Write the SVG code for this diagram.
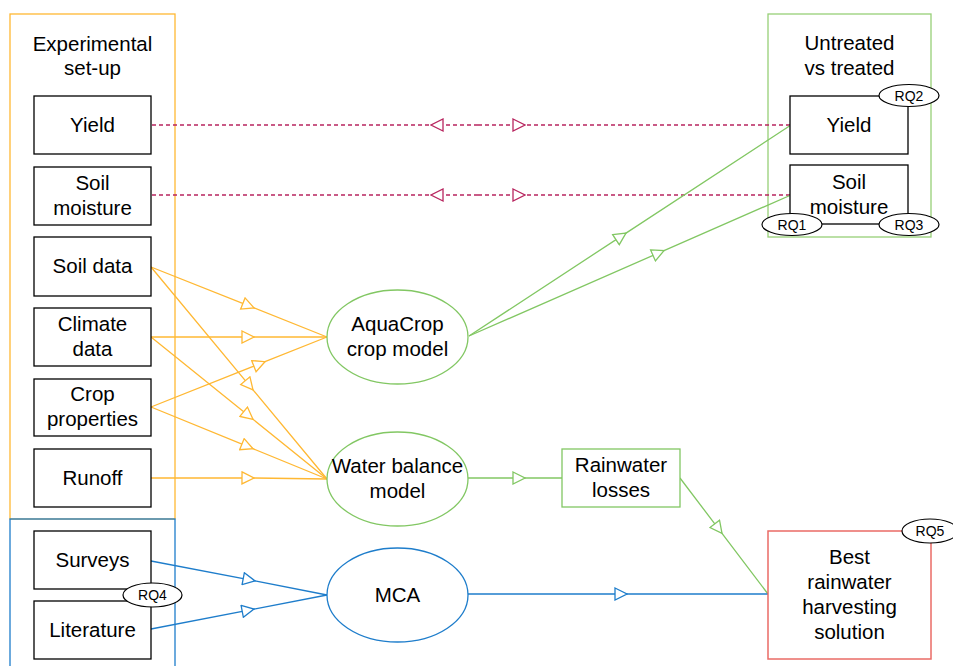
<svg xmlns="http://www.w3.org/2000/svg" width="953" height="666" viewBox="0 0 953 666">
<style>
text{font-family:"Liberation Sans",Arial,sans-serif;font-size:20.5px;fill:#000;text-anchor:middle;stroke:none}
text.rqt{font-size:14px}
.box{fill:#fff;stroke:#000;stroke-width:1.3}
.rq{fill:#fff;stroke:#000;stroke-width:1.2}
.or{fill:none;stroke:#FFB833;stroke-width:1.3}
.gr{fill:none;stroke:#82C763;stroke-width:1.3}
.bl{fill:none;stroke:#1E7DCB;stroke-width:1.3}
.rd{fill:none;stroke:#B8255F;stroke-width:1.3;stroke-dasharray:4 3}
</style>
<defs>
<marker id="mo" markerUnits="userSpaceOnUse" markerWidth="14" markerHeight="14" viewBox="-1 -1 14 14" refX="12" refY="6" orient="auto"><path d="M0,0 L12,6 L0,12 Z" fill="#fff" stroke="#FFB833" stroke-width="1.3"/></marker>
<marker id="mg" markerUnits="userSpaceOnUse" markerWidth="14" markerHeight="14" viewBox="-1 -1 14 14" refX="12" refY="6" orient="auto"><path d="M0,0 L12,6 L0,12 Z" fill="#fff" stroke="#82C763" stroke-width="1.3"/></marker>
<marker id="mb" markerUnits="userSpaceOnUse" markerWidth="14" markerHeight="14" viewBox="-1 -1 14 14" refX="12" refY="6" orient="auto"><path d="M0,0 L12,6 L0,12 Z" fill="#fff" stroke="#1E7DCB" stroke-width="1.3"/></marker>
<marker id="mr" markerUnits="userSpaceOnUse" markerWidth="14" markerHeight="14" viewBox="-1 -1 14 14" refX="12" refY="6" orient="auto"><path d="M0,0 L12,6 L0,12 Z" fill="#fff" stroke="#B8255F" stroke-width="1.3"/></marker>
</defs>
<rect width="953" height="666" fill="#fff"/>

<g id="experimental-setup">
<rect x="10" y="14" width="165" height="505" fill="none" stroke="#FFB833" stroke-width="1.3"/>
<text x="92.5" y="51">Experimental</text>
<text x="92.5" y="75">set-up</text>
</g>
<g id="survey-group">
<rect x="10" y="519" width="165" height="170" fill="none" stroke="#1E7DCB" stroke-width="1.3"/>
</g>
<g id="untreated-vs-treated">
<rect x="768" y="14" width="163" height="223" fill="none" stroke="#97D077" stroke-width="1.3"/>
<text x="849.5" y="50">Untreated</text>
<text x="849.5" y="75">vs treated</text>
</g>

<g id="connectors">
<path class="rd" d="M478,125 L431,125 L151,125" marker-mid="url(#mr)"/>
<path class="rd" d="M478,125 L525,125 L790,125" marker-mid="url(#mr)"/>
<path class="rd" d="M478,195 L431,195 L151,195" marker-mid="url(#mr)"/>
<path class="rd" d="M478,195 L525,195 L790,195" marker-mid="url(#mr)"/>

<path class="or" d="M151,267 L254,307.9 L327,337" marker-mid="url(#mo)"/>
<path class="or" d="M151,267 L253,389.9 L327,479" marker-mid="url(#mo)"/>
<path class="or" d="M151,337 L254,337 L327,337" marker-mid="url(#mo)"/>
<path class="or" d="M151,337 L253,419.3 L327,479" marker-mid="url(#mo)"/>
<path class="or" d="M151,407 L265,361.7 L327,337" marker-mid="url(#mo)"/>
<path class="or" d="M151,407 L253,448.7 L327,479" marker-mid="url(#mo)"/>
<path class="or" d="M151,478 L254,478 L327,479" marker-mid="url(#mo)"/>

<path class="gr" d="M469,336 L626,233.1 L791,125" marker-mid="url(#mg)"/>
<path class="gr" d="M469,336 L664,250.6 L791,195" marker-mid="url(#mg)"/>
<path class="gr" d="M468,478 L525,478 L562,478" marker-mid="url(#mg)"/>
<path class="gr" d="M680,478 L722,533.4 L768,594" marker-mid="url(#mg)"/>

<path class="bl" d="M151,561 L255,580.9 L327,595" marker-mid="url(#mb)"/>
<path class="bl" d="M151,629 L254,609.1 L327,595" marker-mid="url(#mb)"/>
<path class="bl" d="M468,594 L627,594 L768,594" marker-mid="url(#mb)"/>
</g>

<g id="yield-exp"><rect class="box" x="34" y="96" width="117" height="58"/><text x="92.5" y="132">Yield</text></g>
<g id="soil-moisture-exp"><rect class="box" x="34" y="167" width="117" height="58"/><text x="92.5" y="190">Soil</text><text x="92.5" y="215">moisture</text></g>
<g id="soil-data"><rect class="box" x="34" y="237" width="117" height="59"/><text x="92.5" y="273">Soil data</text></g>
<g id="climate-data"><rect class="box" x="34" y="308" width="117" height="58"/><text x="92.5" y="331">Climate</text><text x="92.5" y="356">data</text></g>
<g id="crop-properties"><rect class="box" x="34" y="379" width="117" height="57"/><text x="92.5" y="401">Crop</text><text x="92.5" y="426">properties</text></g>
<g id="runoff"><rect class="box" x="34" y="449" width="117" height="58"/><text x="92.5" y="485">Runoff</text></g>
<g id="surveys"><rect class="box" x="34" y="531" width="117" height="58"/><text x="92.5" y="567">Surveys</text></g>
<g id="literature"><rect class="box" x="34" y="601" width="117" height="58"/><text x="92.5" y="637">Literature</text></g>
<g id="rq4"><ellipse class="rq" cx="152.5" cy="595" rx="29.5" ry="12"/><text class="rqt" x="152.5" y="600">RQ4</text></g>

<g id="yield-treated"><rect class="box" x="790" y="96" width="118" height="58"/><text x="849" y="132">Yield</text></g>
<g id="soil-moisture-treated"><rect class="box" x="790" y="165" width="118" height="59"/><text x="849" y="189">Soil</text><text x="849" y="214">moisture</text></g>
<g id="rq2"><ellipse class="rq" cx="909" cy="95.5" rx="30" ry="11"/><text class="rqt" x="909" y="100.5">RQ2</text></g>
<g id="rq1"><ellipse class="rq" cx="792" cy="224.5" rx="30" ry="11"/><text class="rqt" x="792" y="229.5">RQ1</text></g>
<g id="rq3"><ellipse class="rq" cx="909" cy="224.5" rx="30" ry="11"/><text class="rqt" x="909" y="229.5">RQ3</text></g>

<g id="aquacrop"><ellipse cx="397.5" cy="337" rx="70.5" ry="47" fill="#fff" stroke="#82C763" stroke-width="1.3"/><text x="397.5" y="331">AquaCrop</text><text x="397.5" y="356">crop model</text></g>
<g id="water-balance"><ellipse cx="397.5" cy="479" rx="70.5" ry="47" fill="#fff" stroke="#82C763" stroke-width="1.3"/><text x="397.5" y="473">Water balance</text><text x="397.5" y="498">model</text></g>
<g id="mca"><ellipse cx="397.5" cy="595" rx="70.5" ry="47" fill="#fff" stroke="#1E7DCB" stroke-width="1.3"/><text x="397.5" y="602">MCA</text></g>
<g id="rainwater-losses"><rect x="562" y="449" width="118" height="58" fill="#fff" stroke="#82C763" stroke-width="1.3"/><text x="621" y="472">Rainwater</text><text x="621" y="497">losses</text></g>

<g id="best-solution"><rect x="768" y="531" width="163" height="128" fill="#fff" stroke="#EA6B66" stroke-width="1.5"/><text x="849.5" y="564">Best</text><text x="849.5" y="589">rainwater</text><text x="849.5" y="614">harvesting</text><text x="849.5" y="639">solution</text></g>
<g id="rq5"><ellipse class="rq" cx="930" cy="531" rx="28" ry="12"/><text class="rqt" x="930" y="536">RQ5</text></g>
</svg>
